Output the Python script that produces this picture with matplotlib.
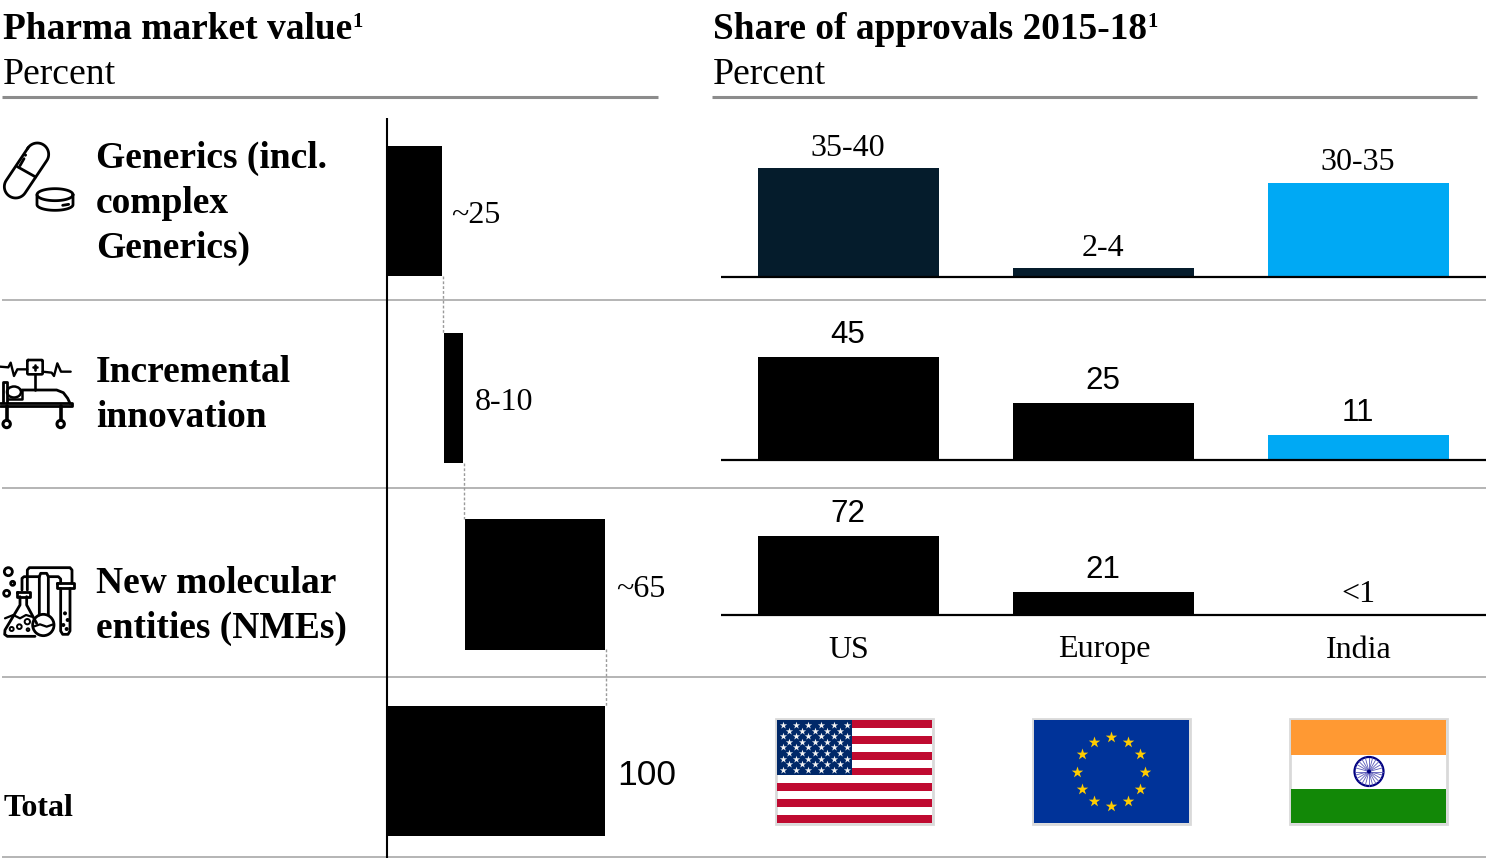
import numpy as np
import matplotlib
matplotlib.use("Agg")
import matplotlib.pyplot as plt
from matplotlib.patches import Rectangle, Circle, Ellipse

# ---------- data ----------
segments = ["Generics (incl.\ncomplex\nGenerics)", "Incremental\ninnovation", "New molecular\nentities (NMEs)", "Total"]
market_values = [25, 9, 65, 100]
market_labels = ["~25", "8-10", "~65", "100"]
regions = ["US", "Europe", "India"]
generic_share = [37.5, 3, 32.5]
generic_labels = ["35-40", "2-4", "30-35"]
incremental_share = [45, 25, 11]
incremental_labels = ["45", "25", "11"]
nme_share = [72, 21, 0.5]
nme_labels = ["72", "21", "<1"]

W, H = 1486, 858
SERIF = "Liberation Serif"
SANS = "Liberation Sans"
NAVY, BLUE, BLACK, GREY = "#051C2C", "#00A9F4", "#000000", "#A8A8A8"

fig = plt.figure(figsize=(W / 100, H / 100), dpi=100, facecolor="white")


def axes_px(x0, y0, x1, y1, **kw):
    ax = fig.add_axes([x0 / W, 1 - y1 / H, (x1 - x0) / W, (y1 - y0) / H], **kw)
    ax.patch.set_alpha(0)
    ax.axis("off")
    return ax


# overlay in pixel coordinates for the frame, rules, text and pictograms
ov = axes_px(0, 0, W, H, zorder=1)
ov.set_xlim(0, W)
ov.set_ylim(H, 0)

# ---------- rules ----------
for x0, x1 in [(2, 658), (712, 1477)]:
    ov.plot([x0, x1], [96.5, 96.5], color="#8C8C8C", lw=2.2, solid_capstyle="butt")
for y in [300, 488, 677, 857]:
    ov.plot([2, W], [y, y], color=GREY, lw=1.2, solid_capstyle="butt")
ov.plot([387, 387], [118, H], color="black", lw=1.5, solid_capstyle="butt")

# ---------- headings ----------
TITLE = 26.9
ov.text(3, 39, "Pharma market value", family=SERIF, weight="bold", fontsize=TITLE, va="baseline")
ov.text(352, 27, "1", family=SERIF, weight="bold", fontsize=15, va="baseline")
ov.text(713, 39, "Share of approvals 2015-18", family=SERIF, weight="bold", fontsize=TITLE, va="baseline")
ov.text(1147, 27, "1", family=SERIF, weight="bold", fontsize=15, va="baseline")
ov.text(3, 84, "Percent", family=SERIF, fontsize=27.2, va="baseline")
ov.text(713, 84, "Percent", family=SERIF, fontsize=27.2, va="baseline")

# ---------- segment labels ----------
LABEL = 27
for lab, x, ys in [(segments[0], 96, [168, 213, 258]), (segments[1], 96, [382, 427]), (segments[2], 96, [593, 638])]:
    for line, y in zip(lab.split("\n"), ys):
        ov.text(x, y, line, family=SERIF, weight="bold", fontsize=LABEL, va="baseline")
ov.text(4, 816, segments[3], family=SERIF, weight="bold", fontsize=23, va="baseline")

# ---------- waterfall ----------
wf = axes_px(388, 118, 605, H, zorder=2)
wf.set_xlim(0, 100)
wf.set_ylim(H, 118)
row_centres = [211, 398, 584.5, 771]
GAP = 0.7
starts = []
pos = 0
for v in market_values[:3]:
    starts.append(pos)
    pos += v + GAP
starts.append(0)
wf.barh(row_centres, market_values, left=starts, height=130.5, color="black", linewidth=0)
label_fonts = [(SERIF, 23), (SERIF, 23), (SERIF, 23), (SANS, 25.5)]
label_offsets = [9, 11, 10, 12]
for i, (s, v, lab) in enumerate(zip(starts, market_values, market_labels)):
    wf.annotate(lab, (s + v, row_centres[i]), xytext=(label_offsets[i], -5), textcoords="offset pixels",
                family=label_fonts[i][0], fontsize=label_fonts[i][1], va="center", ha="left", annotation_clip=False)
# dashed connectors
for i in range(3):
    x = starts[i] + market_values[i] + GAP * 0.3
    wf.plot([x, x], [row_centres[i] + 65, row_centres[i + 1] - 65], color="#9A9A9A", lw=1, ls=(0, (2, 1.5)), clip_on=False)

# ---------- approvals bars ----------
rows = [
    (generic_share, generic_labels, 277, 120, 2.9, [NAVY, NAVY, BLUE], SERIF, 23),
    (incremental_share, incremental_labels, 460, 310, 2.29, [BLACK, BLACK, BLUE], SANS, 22.5),
    (nme_share, nme_labels, 615, 490, 1.1, [BLACK, BLACK, "none"], SANS, 22.5),
]
for vals, labs, base, top, scale, cols, fam, fs in rows:
    ax = axes_px(721, top, 1486, base, zorder=2)
    ax.set_xlim(-127 / 255, 638 / 255)
    ax.set_ylim(0, (base - top) / scale)
    x = np.arange(len(vals))
    ax.bar(x, vals, width=181 / 255, color=cols, linewidth=0)
    ax.plot([-127 / 255, 638 / 255], [0, 0], color="black", lw=1.6, clip_on=False, solid_capstyle="butt")
    for xi, v, lab in zip(x, vals, labs):
        f = SERIF if lab == "<1" else fam
        size = 23 if lab == "<1" else fs
        off = 20 if f == SERIF else 22
        ax.annotate(lab, (xi, v), xytext=(0, off), textcoords="offset pixels", ha="center", va="center",
                    family=f, fontsize=size, annotation_clip=False)
for i, r in enumerate(regions):
    ov.text(849 + 255 * i, 650, r, family=SERIF, fontsize=23, ha="center", va="center")


# ---------- flags ----------
def frame(x0, y0, w=157, h=105):
    ov.add_patch(Rectangle((x0 - 1, y0 - 1), w + 2, h + 2, fc="white", ec="#D9D9D9", lw=2))


# US
x0, y0, w, h = 777, 720, 155, 103
frame(x0, y0, w, h)
sh = h / 13
for i in range(0, 13, 2):
    ov.add_patch(Rectangle((x0, y0 + i * sh), w, sh, fc="#BF0A30", lw=0))
ov.add_patch(Rectangle((x0, y0), 75, 7 * sh, fc="#002868", lw=0))
sx, sy = [], []
for r in range(9):
    n = 6 if r % 2 == 0 else 5
    for c in range(n):
        sx.append(x0 + 6 + c * 12.7 + (0 if r % 2 == 0 else 6.3))
        sy.append(y0 + 5 + r * 5.6)
ov.scatter(sx, sy, marker="*", s=30, c="#F2F2F2", linewidths=0, zorder=5)

# EU
x0, y0 = 1034, 720
frame(x0, y0, 155, 103)
ov.add_patch(Rectangle((x0, y0), 155, 103, fc="#003399", lw=0))
ang = np.deg2rad(np.arange(0, 360, 30))
ov.scatter(x0 + 77 + 34 * np.sin(ang), y0 + 51.5 - 34.5 * np.cos(ang), marker="*", s=75, c="#FFCC00", linewidths=0, zorder=5)

# India
x0, y0 = 1291, 720
frame(x0, y0, 155, 103)
ov.add_patch(Rectangle((x0, y0), 155, 34.5, fc="#FF9933", lw=0))
ov.add_patch(Rectangle((x0, y0 + 68.5), 155, 34.5, fc="#128807", lw=0))
cx, cy = x0 + 78, y0 + 51.5
ov.add_patch(Circle((cx, cy), 14.5, fc="white", ec="#000080", lw=1.6, zorder=5))
for a in np.deg2rad(np.arange(0, 360, 15)):
    ov.plot([cx, cx + 14 * np.cos(a)], [cy, cy + 14 * np.sin(a)], color="#5A5AB8", lw=0.6, zorder=5)
ov.add_patch(Circle((cx, cy), 2, fc="#000080", lw=0, zorder=6))


# ---------- pictograms ----------
def icon(x0, y0, pts, lw=2.0):
    arr = np.array(pts, float) / 3
    ov.plot(x0 + arr[:, 0], y0 + arr[:, 1], color="black", lw=lw, solid_capstyle="round", solid_joinstyle="round")


def ring(x0, y0, cx, cy, r, lw=2.0, fc="none"):
    ov.add_patch(Circle((x0 + cx / 3, y0 + cy / 3), r / 3, fc=fc, ec="black", lw=lw))


# capsule
y0 = 120
p1, p2 = np.array([112.0, 103.0]), np.array([47.0, 200.0])
d = (p2 - p1) / np.linalg.norm(p2 - p1)
base_ang = np.arctan2(d[1], d[0])
t1 = np.linspace(base_ang + np.pi / 2, base_ang + 3 * np.pi / 2, 30)
t2 = np.linspace(base_ang - np.pi / 2, base_ang + np.pi / 2, 30)
R = 34
cap = np.vstack([np.c_[p1[0] + R * np.cos(t1), p1[1] + R * np.sin(t1)],
                 np.c_[p2[0] + R * np.cos(t2), p2[1] + R * np.sin(t2)]])
icon(0, y0, np.vstack([cap, cap[:1]]))
icon(0, y0, [(52, 140), (107, 171)])
icon(0, y0, [(60, 137), (72, 116)])
icon(0, y0, [(76, 106), (77, 105)])
# tablet
t = np.linspace(0, 2 * np.pi, 60)
icon(0, y0, np.c_[165 + 54 * np.cos(t), 224 + 18 * np.sin(t)])
tb = np.linspace(0, np.pi, 30)
icon(0, y0, np.vstack([[(111, 224)], np.c_[165 - 54 * np.cos(tb), 254 + 17 * np.sin(tb)], [(219, 224)]]))
icon(0, y0, [(176, 255), (177, 255)])
icon(0, y0, [(188, 256), (206, 253)])

# hospital bed
y0 = 340
icon(0, y0, [(0, 80), (25, 82), (32, 68), (42, 108), (52, 88), (82, 88)], 1.7)
icon(0, y0, [(128, 95), (155, 98), (162, 108), (172, 70), (183, 95), (212, 95)], 1.7)
icon(0, y0, [(84, 60), (126, 60), (128, 62), (128, 101), (126, 103), (84, 103), (82, 101), (82, 62), (84, 60)], 1.9)
icon(0, y0, [(98, 82), (112, 82)], 1.9)
icon(0, y0, [(105, 75), (105, 89)], 1.9)
icon(0, y0, [(105, 103), (105, 150)], 1.9)
icon(0, y0, [(65, 150), (170, 150), (190, 158), (203, 175), (210, 190)], 2.0)
icon(0, y0, [(0, 190), (215, 190), (215, 197), (0, 197)], 2.0)
icon(0, y0, [(10, 185), (10, 125), (20, 125), (20, 185)], 2.0)
ov.add_patch(Ellipse((14, y0 + 52), 14, 11, fc="white", ec="black", lw=1.8))
icon(0, y0, [(25, 178), (65, 178), (65, 150)], 1.8)
for cx in (20, 182):
    icon(0, y0, [(cx, 197), (cx, 240)], 2.6)
    ring(0, y0, cx, 252, 11, 2.2)

# lab glassware
y0 = 555
ring(0, y0, 25, 50, 12)
ring(0, y0, 38, 85, 6)
ring(0, y0, 20, 115, 9)
icon(0, y0, [(50, 110), (90, 110), (90, 125), (50, 125), (50, 110)])
icon(0, y0, [(60, 125), (60, 150), (15, 225), (14, 238), (22, 244), (105, 244)])
icon(0, y0, [(80, 125), (80, 150), (110, 205)])
icon(0, y0, [(15, 190), (40, 180), (60, 190), (78, 180), (95, 185)], 1.6)
ring(0, y0, 130, 210, 32)
icon(0, y0, [(118, 180), (118, 65), (122, 55), (140, 55), (145, 65), (145, 180)])
icon(0, y0, [(66, 105), (66, 70), (72, 65), (118, 65)])
icon(0, y0, [(82, 105), (82, 45), (88, 38), (210, 38), (216, 45), (216, 85)])
icon(0, y0, [(145, 65), (175, 65), (182, 72), (182, 85)])
icon(0, y0, [(172, 85), (222, 85), (222, 100), (172, 100), (172, 85)])
icon(0, y0, [(182, 100), (182, 228), (188, 238), (204, 238), (210, 228), (210, 100)])
icon(0, y0, [(100, 215), (120, 208), (140, 215), (160, 208)], 1.6)
for cx, cy, r in [(35, 222, 6), (58, 215, 7), (82, 200, 8), (84, 224, 4), (195, 175, 3), (203, 195, 3), (190, 210, 3), (200, 222, 3)]:
    ring(0, y0, cx, cy, r, 1.4)

fig.savefig("out.png", dpi=100, facecolor="white")
